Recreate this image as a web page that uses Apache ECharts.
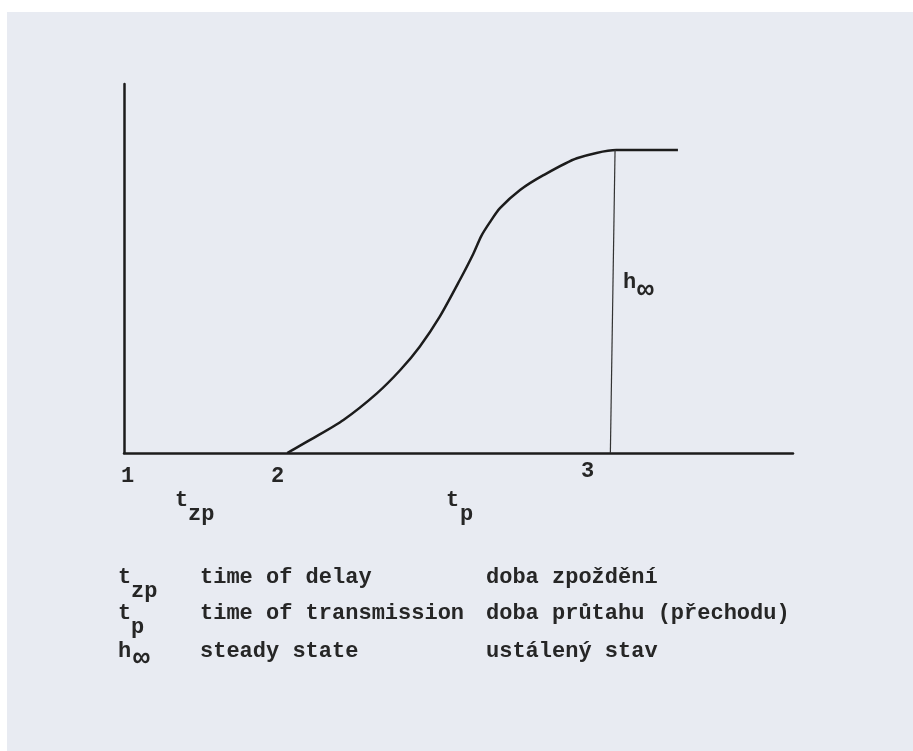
<!DOCTYPE html>
<html>
<head>
<meta charset="utf-8">
<script src="https://cdn.jsdelivr.net/npm/echarts@6/dist/echarts.min.js"></script>
<style>
  html, body { margin: 0; padding: 0; background: #fff; }
  #main { width: 913px; height: 751px; }
</style>
</head>
<body>
<div id="main"></div>
<script>
// step response h(t) - time axis in relative units, h normalised to h(inf) = 1
var curveX = [24.4, 28.3, 32.8, 37.8, 41.3, 44.2, 47.2, 50.2, 52.2, 53.4, 54.7, 56.2, 59.2, 62.7, 67.7, 73.6, 82.8];
var curveY = [0, 0.049, 0.109, 0.197, 0.274, 0.351, 0.450, 0.571, 0.657, 0.716, 0.762, 0.808, 0.868, 0.917, 0.973, 1.0, 1.0];
// vertical line showing h(inf)
var steadyX = [72.7, 73.4];
var steadyY = [0, 1.0];
var pointLabels = ['1', '2', '3'];

// legend rows under the chart
var legendSym = ['t', 't', 'h'];
var legendSub = ['zp', 'p', '\u221e'];
var legendEn = ['time of delay', 'time of transmission', 'steady state'];
var legendCz = ['doba zpoždění', 'doba průtahu (přechodu)', 'ustálený stav'];

var ink = '#1c1c1c';
var paper = '#e8ebf2';
var font = '"Liberation Mono", "DejaVu Sans Mono", monospace';

function zip(a, b) {
    var out = [];
    for (var i = 0; i < a.length; i++) out.push([a[i], b[i]]);
    return out;
}

// y is the top of the text box
function txt(s, x, y, size) {
    return {
        type: 'text',
        silent: true,
        z: 10,
        style: {
            text: s,
            x: x,
            y: y,
            fill: '#262626',
            font: 'bold ' + (size || 22) + 'px ' + font,
            verticalAlign: 'top'
        }
    };
}

var chart = echarts.init(document.getElementById('main'));

var graphic = [
    { type: 'rect', silent: true, shape: { x: 0, y: 0, width: 913, height: 12 }, style: { fill: '#fff' } },
    { type: 'rect', silent: true, shape: { x: 0, y: 0, width: 7, height: 751 }, style: { fill: '#fff' } }
];

// point numbers on the time axis
var numPos = [[121, 465], [271, 465], [581, 460]];
for (var i = 0; i < pointLabels.length; i++) {
    graphic.push(txt(pointLabels[i], numPos[i][0], numPos[i][1]));
}
// t_zp and t_p under the axis
graphic.push(txt('t', 175, 489));
graphic.push(txt('zp', 188, 503));
graphic.push(txt('t', 446, 489));
graphic.push(txt('p', 460, 503));
// h_inf beside the vertical line
graphic.push(txt('h', 623, 271));
graphic.push(txt('\u221e', 637, 277, 28));

// legend
var rowY = [566, 602, 640];
for (var r = 0; r < legendSym.length; r++) {
    graphic.push(txt(legendSym[r], 118, rowY[r]));
    if (r === 2) {
        graphic.push(txt(legendSub[r], 133, rowY[r] + 5, 28));
    } else {
        graphic.push(txt(legendSub[r], 131, rowY[r] + 14));
    }
    graphic.push(txt(legendEn[r], 200, rowY[r]));
    graphic.push(txt(legendCz[r], 486, rowY[r]));
}

var option = {
    backgroundColor: paper,
    animation: false,
    grid: { left: 124, top: 84, width: 669, height: 369 },
    xAxis: {
        type: 'value',
        min: 0,
        max: 100,
        axisLine: { show: true, lineStyle: { color: ink, width: 2.5 } },
        axisTick: { show: false },
        axisLabel: { show: false },
        splitLine: { show: false }
    },
    yAxis: {
        type: 'value',
        min: 0,
        max: 1.218,
        axisLine: { show: true, lineStyle: { color: ink, width: 2.5 } },
        axisTick: { show: false },
        axisLabel: { show: false },
        splitLine: { show: false }
    },
    series: [
        {
            name: 'h(t)',
            type: 'line',
            data: zip(curveX, curveY),
            smooth: 0.25,
            showSymbol: false,
            lineStyle: { color: ink, width: 2.5 }
        },
        {
            name: 'h steady',
            type: 'line',
            data: zip(steadyX, steadyY),
            showSymbol: false,
            lineStyle: { color: '#333', width: 1.2 }
        }
    ],
    graphic: graphic
};

chart.setOption(option);
</script>
</body>
</html>
